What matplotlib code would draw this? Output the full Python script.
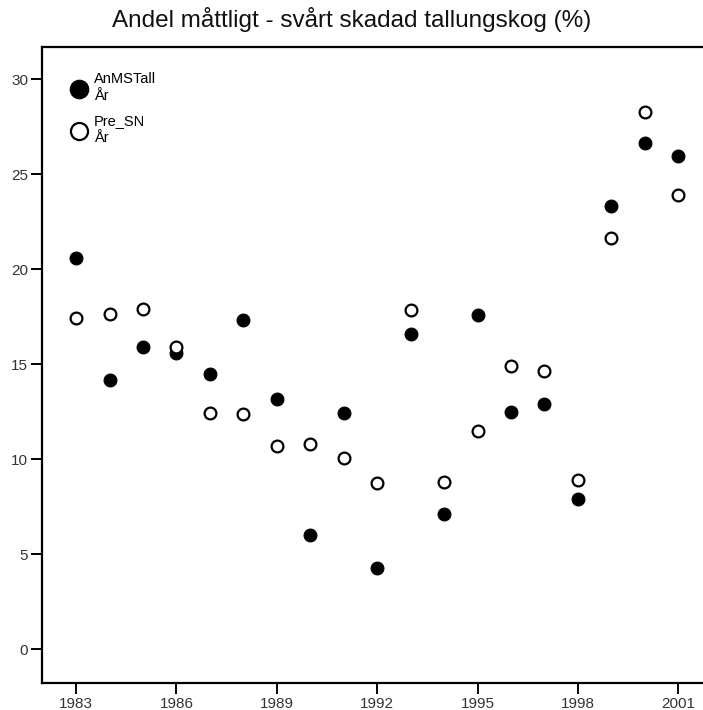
"""
Andel måttligt - svårt skadad tallungskog (%) -- scatter, observed vs predicted
"""

import matplotlib
matplotlib.use("Agg")
import matplotlib.pyplot as plt

years = [1983, 1984, 1985, 1986, 1987, 1988, 1989, 1990, 1991, 1992,
         1993, 1994, 1995, 1996, 1997, 1998, 1999, 2000, 2001]
an_ms_tall = [20.6, 14.2, 15.9, 15.6, 14.5, 17.35, 13.2, 6.0, 12.45, 4.3,
              16.6, 7.1, 17.6, 12.5, 12.9, 7.9, 23.35, 26.65, 25.95]
pre_sn = [17.45, 17.65, 17.9, 15.9, 12.45, 12.4, 10.7, 10.8, 10.05, 8.75,
          17.85, 8.8, 11.5, 14.9, 14.65, 8.9, 21.65, 28.3, 23.9]

x_ticks = [1983, 1986, 1989, 1992, 1995, 1998, 2001]
y_ticks = [0, 5, 10, 15, 20, 25, 30]

plt.rcParams["font.family"] = ["Liberation Sans", "DejaVu Sans"]

fig = plt.figure(figsize=(7.03, 7.10), dpi=100)
ax = fig.add_axes([42 / 703, 27 / 710, 661 / 703, 636 / 710])

ax.scatter(years, an_ms_tall, s=85, color="black", edgecolors="black",
           linewidths=0.8, zorder=3, label="AnMSTall\nÅr")
ax.scatter(years, pre_sn, s=72, facecolors="white", edgecolors="black",
           linewidths=1.6, zorder=3, label="Pre_SN\nÅr")

ax.set_xlim(1981.98, 2001.74)
ax.set_ylim(-1.77, 31.7)
ax.set_xticks(x_ticks)
ax.set_yticks(y_ticks)

for side in ["left", "bottom", "top"]:
    ax.spines[side].set_linewidth(1.6)
ax.spines["right"].set_visible(False)

ax.tick_params(direction="out", length=8, width=1.4, labelsize=11,
               labelcolor="#333333", pad=2)

# legend: big markers, two-line labels, no frame
ax.legend(loc="upper left", bbox_to_anchor=(0.039, 0.96), frameon=False,
          markerscale=1.45, handletextpad=0.2, labelspacing=0.8,
          fontsize=10.5, handlelength=1.6, borderpad=0.0, borderaxespad=0.0)

fig.suptitle("Andel måttligt - svårt skadad tallungskog (%)", fontsize=17.5,
             y=0.99, color="#111111")

fig.savefig("out.png", dpi=100)
